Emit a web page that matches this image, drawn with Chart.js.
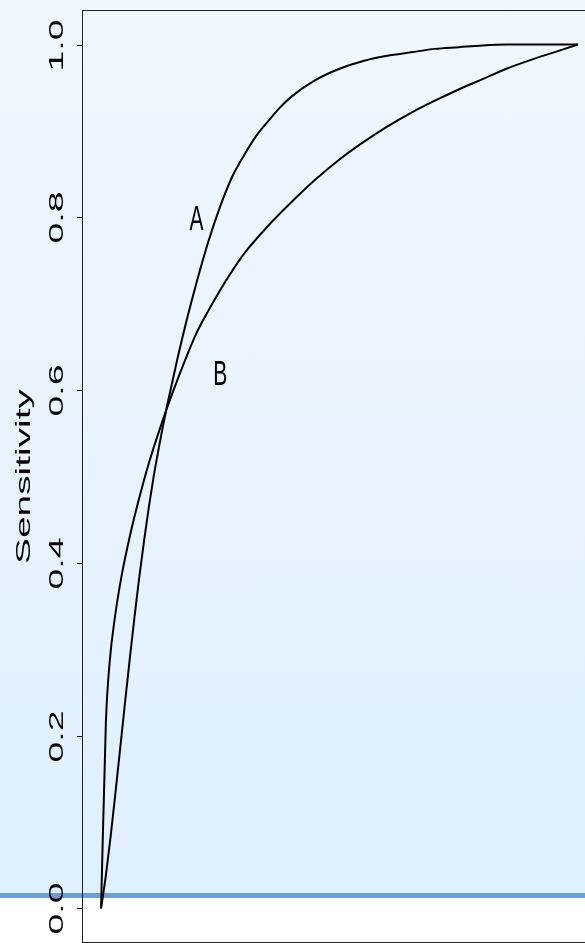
<!DOCTYPE html>
<html>
<head>
<meta charset="utf-8">
<script src="https://cdn.jsdelivr.net/npm/chart.js@4/dist/chart.umd.min.js"></script>
<style>
  html, body {
    margin: 0;
    padding: 0;
    width: 585px;
    height: 943px;
    overflow: hidden;
    background: linear-gradient(to bottom, #f0f7ff 0px, #dff0fe 893px, #6e9ed8 893px, #6e9ed8 898px, #ffffff 898px);
  }
  #wrap { position: absolute; left: 0; top: 0; width: 610px; height: 943px; }
</style>
</head>
<body>
<div id="wrap"><canvas id="roc" width="610" height="943"></canvas></div>
<script>
// Curve A (1 - specificity, sensitivity)
var fprA = [0, 0.01, 0.02, 0.03, 0.04, 0.05, 0.06, 0.07, 0.08, 0.09, 0.10, 0.11, 0.12, 0.13, 0.14, 0.16, 0.18, 0.20, 0.225, 0.25, 0.275, 0.30, 0.325, 0.35, 0.375, 0.40, 0.45, 0.50, 0.55, 0.60, 0.65, 0.70, 0.75, 0.80, 0.85, 1.0];
var tprA = [0, 0.038, 0.083, 0.133, 0.185, 0.237, 0.288, 0.337, 0.383, 0.425, 0.464, 0.499, 0.530, 0.559, 0.586, 0.636, 0.682, 0.724, 0.772, 0.813, 0.847, 0.872, 0.894, 0.911, 0.927, 0.940, 0.959, 0.972, 0.981, 0.987, 0.991, 0.995, 0.997, 0.999, 1.0, 1.0];

// Curve B
var fprB = [0, 0.010, 0.018, 0.029, 0.043, 0.06, 0.08, 0.10, 0.125, 0.15, 0.175, 0.20, 0.225, 0.25, 0.275, 0.30, 0.35, 0.40, 0.45, 0.50, 0.55, 0.60, 0.65, 0.70, 0.75, 0.80, 0.85, 0.90, 0.95, 1.0];
var tprB = [0, 0.214, 0.285, 0.337, 0.385, 0.430, 0.475, 0.515, 0.558, 0.597, 0.633, 0.666, 0.692, 0.716, 0.738, 0.758, 0.790, 0.818, 0.844, 0.867, 0.887, 0.905, 0.921, 0.935, 0.948, 0.960, 0.972, 0.982, 0.991, 1.0];

// Y tick values and labels
var yTickValues = [0, 0.2, 0.4, 0.6, 0.8, 1.0];
var yTickLabels = ['0.0', '0.2', '0.4', '0.6', '0.8', '1.0'];
var yTitle = 'Sensitivity';

// Curve labels placed in data coordinates
var curveLabels = ['A', 'B'];
var curveLabelX = [0.200, 0.250];
var curveLabelY = [0.800, 0.621];

function toPoints(xs, ys) {
    return xs.map(function (x, i) { return { x: x, y: ys[i] }; });
}

var FONT = "'Liberation Sans', Arial, sans-serif";

// Draws the box, the rotated/stretched tick labels, axis title and curve labels
var decorPlugin = {
    id: 'decor',
    afterDraw: function (chart) {
        var ctx = chart.ctx;
        var a = chart.chartArea;
        var xs = chart.scales.x;
        var ys = chart.scales.y;

        ctx.save();
        ctx.strokeStyle = '#222';
        ctx.lineWidth = 1;
        ctx.strokeRect(a.left + 0.5, a.top + 0.5, a.right - a.left - 1, a.bottom - a.top - 1);

        ctx.fillStyle = '#000';
        ctx.strokeStyle = '#000';
        ctx.font = '21px ' + FONT;
        yTickValues.forEach(function (v, i) {
            var py = Math.round(ys.getPixelForValue(v)) + 0.5;
            ctx.beginPath();
            ctx.moveTo(a.left - 5, py);
            ctx.lineTo(a.left, py);
            ctx.stroke();

            ctx.save();
            ctx.translate(63, py);
            ctx.rotate(-Math.PI / 2);
            ctx.scale(1.78, 1);
            ctx.textAlign = 'center';
            ctx.textBaseline = 'alphabetic';
            ctx.fillText(yTickLabels[i], 0, 0);
            ctx.restore();
        });

        // axis title
        ctx.save();
        ctx.translate(30, (a.top + a.bottom) / 2);
        ctx.rotate(-Math.PI / 2);
        ctx.scale(1.85, 1);
        ctx.textAlign = 'center';
        ctx.textBaseline = 'alphabetic';
        ctx.fillText(yTitle, 0, 0);
        ctx.restore();

        // curve labels
        curveLabels.forEach(function (t, i) {
            var px = xs.getPixelForValue(curveLabelX[i]);
            var py = ys.getPixelForValue(curveLabelY[i]);
            ctx.save();
            ctx.translate(px, py);
            ctx.scale(1, 1.7);
            ctx.textAlign = 'center';
            ctx.textBaseline = 'alphabetic';
            ctx.fillText(t, 0, 7.5);
            ctx.restore();
        });
        ctx.restore();
    }
};

var lineStyle = {
    showLine: true,
    borderColor: '#000000',
    borderWidth: 2,
    pointRadius: 0,
    cubicInterpolationMode: 'monotone',
    fill: false
};

new Chart(document.getElementById('roc'), {
    type: 'scatter',
    data: {
        datasets: [
            Object.assign({ label: 'A', data: toPoints(fprA, tprA) }, lineStyle),
            Object.assign({ label: 'B', data: toPoints(fprB, tprB) }, lineStyle)
        ]
    },
    options: {
        responsive: false,
        animation: false,
        layout: { padding: { left: 82, top: 10, right: 13, bottom: 0 } },
        plugins: {
            legend: { display: false },
            tooltip: { enabled: false }
        },
        scales: {
            x: { type: 'linear', min: -0.04, max: 1.04, display: false },
            y: { type: 'linear', min: -0.04, max: 1.04, display: false }
        }
    },
    plugins: [decorPlugin]
});
</script>
</body>
</html>
